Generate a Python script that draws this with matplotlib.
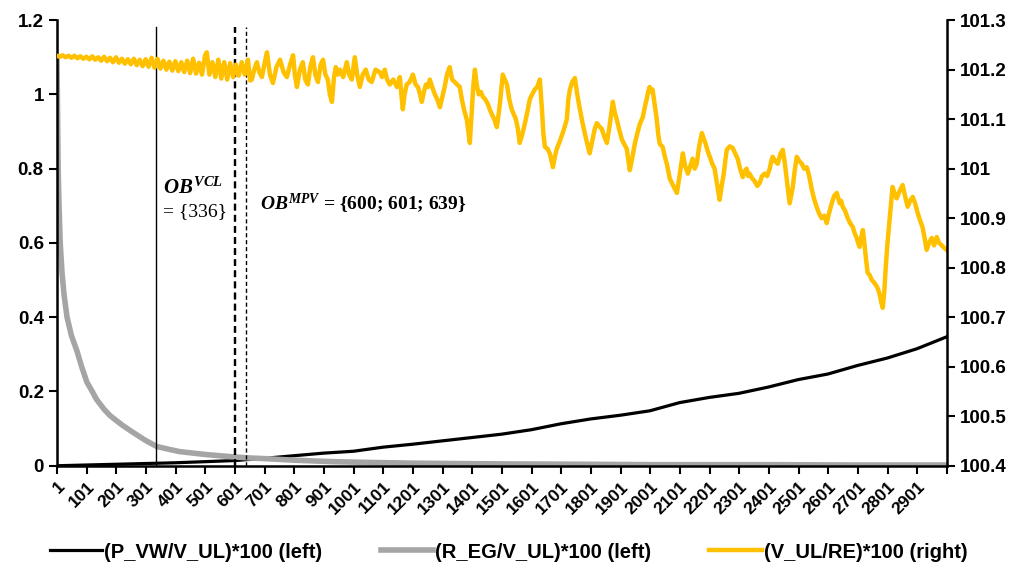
import matplotlib
matplotlib.use("Agg")
import matplotlib.pyplot as plt

plt.rcParams['font.family'] = ['Liberation Sans', 'DejaVu Sans']
plt.rcParams['mathtext.fontset'] = 'custom'
plt.rcParams['mathtext.it'] = 'Liberation Serif:italic:bold'
plt.rcParams['mathtext.rm'] = 'Liberation Serif:bold'
plt.rcParams['mathtext.bf'] = 'Liberation Serif:bold'

# (P_VW/V_UL)*100 - venstre akse, lest av bildet
pvw_x = [1, 100, 200, 300, 400, 500, 600, 700, 800, 900, 1000, 1100, 1200, 1300, 1400,
         1500, 1600, 1700, 1800, 1900, 2000, 2100, 2200, 2300, 2400, 2500, 2600, 2700,
         2800, 2900, 3000]
pvw_y = [0.0, 0.002, 0.004, 0.006, 0.008, 0.011, 0.014, 0.02, 0.027, 0.034, 0.039, 0.05,
         0.058, 0.067, 0.076, 0.085, 0.097, 0.113, 0.126, 0.136, 0.148, 0.17, 0.184, 0.195,
         0.212, 0.232, 0.247, 0.27, 0.29, 0.315, 0.347]

# (R_EG/V_UL)*100 - venstre akse
reg_x = [1, 3, 5, 8, 12, 18, 25, 35, 50, 68, 85, 102, 120, 135, 160, 180, 220, 257,
         300, 337, 380, 415, 460, 505, 550, 593, 650, 707, 800, 930, 1050, 1200, 1500,
         1800, 2000, 2400, 2700, 3000]
reg_y = [1.1, 0.95, 0.8, 0.7, 0.6, 0.52, 0.46, 0.4, 0.35, 0.31, 0.265, 0.225, 0.2, 0.178,
         0.152, 0.135, 0.11, 0.09, 0.068, 0.052, 0.044, 0.038, 0.034, 0.03, 0.027, 0.024,
         0.021, 0.019, 0.015, 0.011, 0.009, 0.007, 0.005, 0.004, 0.003, 0.003, 0.002, 0.002]

# (V_UL/RE)*100 - hoyre akse, (indeks, verdi)
vul_points = [
    (1, 101.228), (10, 101.226), (20, 101.229), (30, 101.225), (40, 101.228), (50, 101.224),
    (60, 101.228), (70, 101.223), (80, 101.227), (90, 101.222), (100, 101.226), (110, 101.221),
    (120, 101.227), (130, 101.220), (140, 101.225), (150, 101.218), (160, 101.226), (170, 101.217),
    (180, 101.224), (190, 101.215), (200, 101.225), (210, 101.214), (220, 101.222), (230, 101.212),
    (240, 101.221), (250, 101.211), (260, 101.222), (270, 101.209), (280, 101.220), (290, 101.207),
    (300, 101.221), (310, 101.206), (320, 101.224), (330, 101.204), (340, 101.222), (350, 101.202),
    (360, 101.218), (370, 101.200), (380, 101.216), (390, 101.198), (400, 101.217), (410, 101.197),
    (420, 101.215), (430, 101.195), (440, 101.218), (450, 101.193), (460, 101.222), (470, 101.192),
    (480, 101.214), (490, 101.190), (500, 101.228), (506, 101.235), (515, 101.19), (525, 101.215),
    (535, 101.185), (545, 101.22), (555, 101.182), (565, 101.215), (575, 101.18), (585, 101.213),
    (595, 101.185), (604, 101.21), (614, 101.188), (624, 101.215), (634, 101.19), (645, 101.22),
    (652, 101.178), (658, 101.18), (666, 101.2), (675, 101.215), (683, 101.195), (692, 101.185),
    (700, 101.21), (709, 101.235), (719, 101.19), (729, 101.173), (741, 101.205), (753, 101.22),
    (765, 101.195), (776, 101.185), (787, 101.21), (797, 101.229), (803, 101.19), (810, 101.165),
    (820, 101.2), (830, 101.215), (838, 101.18), (847, 101.17), (855, 101.205), (864, 101.225),
    (872, 101.19), (881, 101.175), (890, 101.21), (898, 101.22), (906, 101.19), (914, 101.18),
    (921, 101.15), (928, 101.135), (935, 101.185), (941, 101.205), (948, 101.19), (955, 101.2),
    (966, 101.185), (978, 101.215), (986, 101.19), (995, 101.18), (1005, 101.225), (1013, 101.19),
    (1022, 101.165), (1032, 101.19), (1042, 101.2), (1052, 101.18), (1062, 101.175), (1075, 101.2),
    (1089, 101.195), (1097, 101.185), (1106, 101.2), (1114, 101.18), (1123, 101.17), (1135, 101.18),
    (1147, 101.165), (1157, 101.185), (1162, 101.15), (1167, 101.12), (1173, 101.15), (1180, 101.17),
    (1190, 101.175), (1201, 101.19), (1210, 101.17), (1218, 101.165), (1225, 101.15), (1231, 101.135),
    (1238, 101.155), (1245, 101.17), (1252, 101.165), (1258, 101.18), (1266, 101.165), (1275, 101.15),
    (1283, 101.14), (1292, 101.124), (1300, 101.145), (1308, 101.165), (1316, 101.19), (1325, 101.205),
    (1333, 101.18), (1342, 101.175), (1350, 101.17), (1359, 101.165), (1366, 101.14), (1373, 101.12),
    (1383, 101.098), (1393, 101.052), (1400, 101.12), (1405, 101.17), (1410, 101.2), (1416, 101.17),
    (1423, 101.15), (1430, 101.155), (1437, 101.145), (1445, 101.14), (1454, 101.13), (1460, 101.12),
    (1467, 101.11), (1475, 101.1), (1484, 101.084), (1490, 101.11), (1494, 101.13), (1499, 101.16),
    (1504, 101.19), (1511, 101.18), (1518, 101.17), (1526, 101.14), (1534, 101.12), (1541, 101.11),
    (1548, 101.1), (1555, 101.08), (1561, 101.052), (1570, 101.07), (1578, 101.09), (1587, 101.115),
    (1595, 101.14), (1603, 101.15), (1612, 101.16), (1620, 101.165), (1629, 101.18), (1636, 101.12),
    (1641, 101.07), (1646, 101.044), (1655, 101.04), (1663, 101.03), (1673, 101.003), (1680, 101.025),
    (1686, 101.04), (1696, 101.055), (1706, 101.072), (1713, 101.085), (1720, 101.1), (1725, 101.14),
    (1730, 101.159), (1738, 101.175), (1747, 101.183), (1755, 101.15), (1764, 101.12), (1772, 101.095),
    (1781, 101.07), (1789, 101.05), (1797, 101.031), (1807, 101.06), (1814, 101.08), (1821, 101.092),
    (1830, 101.085), (1838, 101.08), (1846, 101.065), (1855, 101.052), (1865, 101.09), (1875, 101.135),
    (1881, 101.115), (1888, 101.1), (1896, 101.08), (1905, 101.06), (1913, 101.05), (1922, 101.04),
    (1932, 100.997), (1940, 101.02), (1949, 101.05), (1957, 101.07), (1966, 101.09), (1976, 101.104),
    (1983, 101.125), (1989, 101.14), (1994, 101.155), (1999, 101.165), (2004, 101.155), (2009, 101.16),
    (2016, 101.13), (2023, 101.1), (2028, 101.07), (2033, 101.05), (2043, 101.044), (2050, 101.025),
    (2057, 101.01), (2062, 100.995), (2067, 100.98), (2079, 100.965), (2091, 100.951), (2096, 100.97),
    (2101, 100.99), (2106, 101.01), (2111, 101.031), (2119, 101.005), (2128, 100.99), (2136, 101.005),
    (2144, 101.02), (2151, 101.0), (2158, 101.01), (2166, 101.045), (2175, 101.072), (2182, 101.06),
    (2188, 101.05), (2195, 101.035), (2202, 101.024), (2210, 101.01), (2218, 101.0), (2226, 100.97),
    (2235, 100.937), (2242, 100.965), (2249, 100.99), (2254, 101.015), (2259, 101.038), (2269, 101.045),
    (2279, 101.042), (2288, 101.03), (2296, 101.02), (2304, 101.0), (2313, 100.983), (2320, 100.995),
    (2326, 101.0), (2331, 100.985), (2336, 100.99), (2345, 100.98), (2353, 100.975), (2362, 100.965),
    (2370, 100.971), (2378, 100.985), (2387, 100.99), (2395, 100.985), (2404, 101.0), (2409, 101.015),
    (2414, 101.024), (2422, 101.015), (2431, 101.01), (2440, 101.03), (2448, 101.038), (2455, 101.01),
    (2461, 100.98), (2466, 100.955), (2471, 100.93), (2476, 100.945), (2481, 100.96), (2488, 100.995),
    (2495, 101.024), (2504, 101.015), (2512, 101.01), (2520, 101.0), (2529, 101.003), (2537, 100.985),
    (2545, 100.96), (2553, 100.94), (2562, 100.923), (2570, 100.91), (2579, 100.9), (2588, 100.905),
    (2596, 100.89), (2604, 100.91), (2613, 100.93), (2621, 100.945), (2630, 100.951), (2635, 100.94),
    (2640, 100.93), (2645, 100.935), (2650, 100.923), (2658, 100.915), (2667, 100.9), (2675, 100.89),
    (2684, 100.882), (2690, 100.87), (2697, 100.86), (2702, 100.85), (2707, 100.842), (2712, 100.86),
    (2718, 100.876), (2723, 100.85), (2728, 100.82), (2734, 100.79), (2741, 100.785), (2748, 100.775),
    (2756, 100.77), (2765, 100.762), (2770, 100.755), (2775, 100.745), (2780, 100.73), (2785, 100.719),
    (2790, 100.75), (2795, 100.8), (2801, 100.85), (2808, 100.896), (2813, 100.93), (2818, 100.963),
    (2825, 100.95), (2832, 100.94), (2842, 100.955), (2852, 100.967), (2860, 100.945), (2869, 100.923),
    (2877, 100.935), (2886, 100.943), (2894, 100.93), (2903, 100.91), (2911, 100.895), (2919, 100.882),
    (2926, 100.86), (2933, 100.836), (2941, 100.85), (2950, 100.86), (2958, 100.845), (2967, 100.862),
    (2975, 100.85), (2984, 100.845), (2992, 100.84), (3000, 100.836),
]
vul_x = [p[0] for p in vul_points]
vul_y = [p[1] for p in vul_points]

ob_vcl = [336]
ob_mpv = [600, 601, 639]

x_ticks = list(range(1, 3002, 100))
x_labels = [str(t) for t in x_ticks[:-1]] + [""]

fig = plt.figure(figsize=(10.17, 5.75), dpi=100)
ax = fig.add_axes([0.056, 0.19, 0.875, 0.775])
ax2 = ax.twinx()

ax.plot(pvw_x, pvw_y, color="black", lw=2.3, label="(P_VW/V_UL)*100 (left)")
ax.plot(reg_x, reg_y, color="#A5A5A5", lw=4, label="(R_EG/V_UL)*100 (left)")
ax2.plot(vul_x, vul_y, color="#FFC000", lw=3.2, label="(V_UL/RE)*100 (right)")

# linjer for OB
for v in ob_vcl:
    ax.axvline(v, ymin=0, ymax=0.985, color="black", lw=1.0)
for v in ob_mpv[:2]:
    ax.axvline(v, ymin=0, ymax=0.985, color="black", lw=1.6, ls=(0, (3, 2)))
ax.axvline(ob_mpv[2], ymin=0, ymax=0.985, color="black", lw=1.0, ls=(0, (3, 2)))

ax.text(358, 0.732, r"$OB^{VCL}$", fontsize=15)
ax.text(358, 0.672, "= {336}", fontsize=14, family="Liberation Serif")
ax.text(685, 0.688, r"$OB^{MPV}$ = {600; 601; 639}", fontsize=14,
        family="Liberation Serif", weight="bold")

ax.set_xlim(1, 3001)
ax.set_ylim(0, 1.2)
ax2.set_ylim(100.4, 101.3)
ax.set_yticks([0, 0.2, 0.4, 0.6, 0.8, 1.0, 1.2])
ax.set_yticklabels(["0", "0.2", "0.4", "0.6", "0.8", "1", "1.2"])
ax2.set_yticks([100.4, 100.5, 100.6, 100.7, 100.8, 100.9, 101, 101.1, 101.2, 101.3])
ax2.set_yticklabels(["100.4", "100.5", "100.6", "100.7", "100.8", "100.9", "101",
                     "101.1", "101.2", "101.3"])
ax.set_xticks(x_ticks)
ax.set_xticklabels(x_labels, rotation=45, ha="right", rotation_mode="anchor")

for a in (ax, ax2):
    a.spines["top"].set_visible(False)
    for s in a.spines.values():
        s.set_linewidth(1.8)
ax.spines["right"].set_visible(False)
ax2.spines["left"].set_visible(False)
ax2.spines["bottom"].set_visible(False)
ax.tick_params(axis="y", labelsize=13.5, length=6, width=1.5)
ax.tick_params(axis="x", labelsize=12.5, length=6, width=1.5)
ax2.tick_params(axis="y", labelsize=13.5, length=6, width=1.5)
for lbl in ax.get_yticklabels() + ax2.get_yticklabels() + ax.get_xticklabels():
    lbl.set_fontweight("bold")

h1, l1 = ax.get_legend_handles_labels()
h2, l2 = ax2.get_legend_handles_labels()
leg = fig.legend(h1 + h2, l1 + l2, loc="center", bbox_to_anchor=(0.5, 0.04), ncol=3,
                 frameon=False, handlelength=2.6, handletextpad=0.1,
                 columnspacing=2.9, prop={"weight": "bold", "size": 14.5})

fig.savefig("out.png", dpi=100)
